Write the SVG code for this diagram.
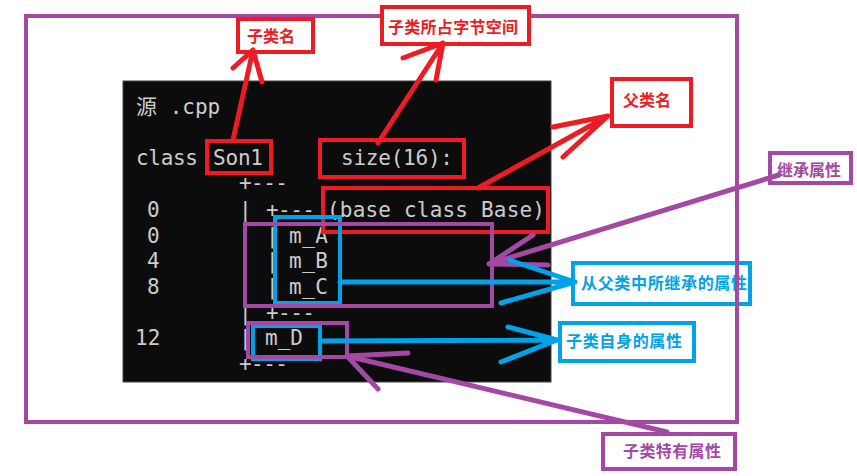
<svg xmlns="http://www.w3.org/2000/svg" width="857" height="476" viewBox="0 0 857 476">
<style>
.term{font-family:"DejaVu Sans Mono","Liberation Mono","Noto Sans CJK SC",monospace;font-size:21px;fill:#cccccc}
.lbl{font-family:"Noto Sans CJK SC","Noto Sans",sans-serif;font-size:16px;font-weight:bold}
.red{stroke:#ed1c24;fill:none}
.pur{stroke:#a349a4;fill:none}
.blu{stroke:#00a2e8;fill:none}
.arrow{stroke-width:5;stroke-linecap:round;stroke-linejoin:round;fill:none}
</style>
<rect width="857" height="476" fill="#ffffff"/>
<g id="terminal">
<rect x="123" y="81" width="428" height="301" fill="#0c0c0c" stroke="#444444" stroke-width="1"/>
<text class="term" x="136" y="114">源 .cpp</text>
<text class="term" x="136" y="165" textLength="62">class</text>
<text class="term" x="213" y="165" textLength="50">Son1</text>
<text class="term" x="341" y="165" textLength="112">size(16):</text>
<text class="term" x="239" y="190" textLength="49">+---</text>
<text class="term" x="147" y="217">0</text>
<text class="term" x="239" y="217">|</text>
<text class="term" x="266" y="217" textLength="49">+---</text>
<text class="term" x="327" y="217" textLength="218">(base class Base)</text>
<text class="term" x="147" y="243">0</text>
<text class="term" x="239" y="243">|</text>
<text class="term" x="266" y="243">|</text>
<text class="term" x="289" y="243" textLength="39">m_A</text>
<text class="term" x="147" y="268">4</text>
<text class="term" x="239" y="268">|</text>
<text class="term" x="266" y="268">|</text>
<text class="term" x="289" y="268" textLength="39">m_B</text>
<text class="term" x="147" y="294">8</text>
<text class="term" x="239" y="294">|</text>
<text class="term" x="266" y="294">|</text>
<text class="term" x="289" y="294" textLength="39">m_C</text>
<text class="term" x="239" y="320">|</text>
<text class="term" x="266" y="320" textLength="49">+---</text>
<text class="term" x="135" y="345">12</text>
<text class="term" x="239" y="345">|</text>
<text class="term" x="265" y="345" textLength="38">m_D</text>
<text class="term" x="239" y="371" textLength="49">+---</text>
</g>
<g id="highlights">
<rect class="red" stroke-width="4" x="207" y="141" width="64" height="32"/>
<rect class="red" stroke-width="4" x="320" y="140" width="144" height="37"/>
<rect class="red" stroke-width="4" x="323" y="188" width="225" height="44"/>
<rect class="blu" stroke-width="4" x="275" y="217" width="65" height="86"/>
<rect class="pur" stroke-width="4" x="245" y="224" width="247" height="82"/>
<rect class="blu" stroke-width="4" x="253" y="326" width="67" height="33"/>
<rect class="pur" stroke-width="4" x="248" y="323" width="99" height="34"/>
</g>
<g id="label-inherited-attrs">
<rect x="573" y="263" width="177" height="41" fill="#ffffff" stroke="#00a2e8" stroke-width="4"/>
<text class="lbl" x="581" y="289" fill="#00a2e8" textLength="166">从父类中所继承的属性</text>
</g>
<g id="frame">
<rect x="26" y="16" width="711" height="406" fill="none" stroke="#a349a4" stroke-width="4"/>
</g>
<g id="label-subclass-name">
<rect x="238" y="19" width="75" height="33" fill="#ffffff" stroke="#ed1c24" stroke-width="4"/>
<text class="lbl" x="247" y="42" fill="#ed1c24">子类名</text>
</g>
<g id="label-subclass-size">
<rect x="382" y="7" width="147" height="37" fill="#ffffff" stroke="#ed1c24" stroke-width="4"/>
<text class="lbl" x="388" y="33" fill="#ed1c24" textLength="130">子类所占字节空间</text>
</g>
<g id="label-parent-name">
<rect x="612" y="79" width="79" height="47" fill="#ffffff" stroke="#ed1c24" stroke-width="4"/>
<text class="lbl" x="623" y="106" fill="#ed1c24">父类名</text>
</g>
<g id="label-inherit">
<rect x="770" y="153" width="81" height="30" fill="#ffffff" stroke="#a349a4" stroke-width="4"/>
<text class="lbl" x="777" y="176" fill="#a349a4">继承属性</text>
</g>
<g id="label-own-attrs">
<rect x="560" y="323" width="134" height="38" fill="#ffffff" stroke="#00a2e8" stroke-width="4"/>
<text class="lbl" x="566" y="347" fill="#00a2e8" textLength="116">子类自身的属性</text>
</g>
<g id="label-unique-attrs">
<rect x="603" y="434" width="132" height="35" fill="#ffffff" stroke="#a349a4" stroke-width="4"/>
<text class="lbl" x="623" y="457" fill="#a349a4" textLength="98">子类特有属性</text>
</g>
<g id="connectors">
<path class="red arrow" d="M233 140 L253 50 M233 68 L253 50 L262 82"/>
<path class="red arrow" d="M378 143 L443 43 M403 58 L443 43 L436 80"/>
<path class="red arrow" d="M478 188 L608 116 M553 127 L608 116 L563 157"/>
<path class="pur arrow" d="M779 175 L489 264 M533 235 L489 264 L548 265"/>
<path class="blu arrow" d="M340 282 L575 282 M509 260 L575 282 L501 303"/>
<path class="blu arrow" d="M320 341 L557 340 M508 327 L557 340 L501 362"/>
<path class="pur arrow" d="M667 432 L347 356 M408 353 L347 356 L378 389"/>
</g>
</svg>
